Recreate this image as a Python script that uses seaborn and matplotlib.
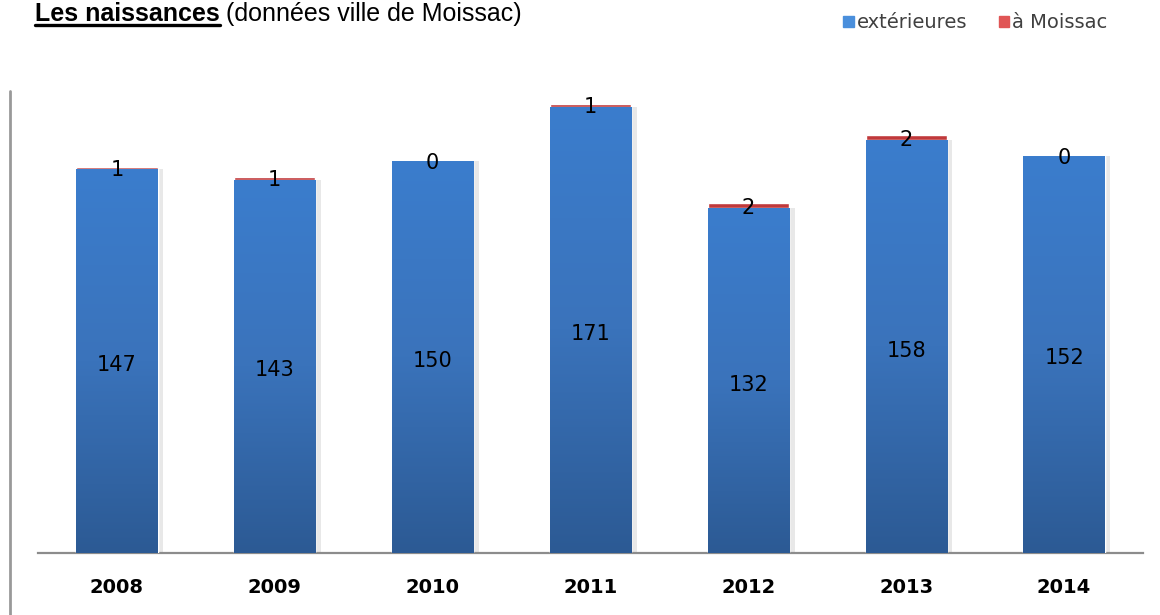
import numpy as np
import pandas as pd
import matplotlib
matplotlib.use('Agg')
import matplotlib.pyplot as plt
import seaborn as sns
from matplotlib.lines import Line2D

# ── DATA ─────────────────────────────────────────────
years = ['2008', '2009', '2010', '2011', '2012', '2013', '2014']
exterieures = [147, 143, 150, 171, 132, 158, 152]
a_moissac = [1, 1, 0, 1, 2, 2, 0]

df = pd.DataFrame({'annee': years, 'ext': exterieures, 'moissac': a_moissac})
df['total'] = df['ext'] + df['moissac']

sns.set_style('white')
plt.rcParams['font.family'] = ['DejaVu Sans']
plt.rcParams['text.color'] = 'black'
plt.rcParams['xtick.color'] = 'black'

fig = plt.figure(figsize=(11.6, 6.15), dpi=100)
ax = fig.add_axes([38 / 1160, 62 / 615, 1105 / 1160, 470 / 615])

# red on bottom layer (total), blue on top (exterieures) -> stacked look
sns.barplot(data=df, x='annee', y='total', color='#c0393b', width=0.515,
            saturation=1, ax=ax, zorder=2)
sns.barplot(data=df, x='annee', y='ext', color='#3a7bc8', width=0.515,
            saturation=1, ax=ax, zorder=3)

n = len(years)
blue_bars = ax.patches[n:]

# vertical gradient inside blue bars
grad = np.linspace(0, 1, 256).reshape(-1, 1)
cmap = matplotlib.colors.LinearSegmentedColormap.from_list(
    'g', ['#2c5a94', '#3a73bb', '#3b7dcd'])
for p in blue_bars:
    x0, w, h = p.get_x(), p.get_width(), p.get_height()
    # soft shadow on the right
    ax.add_patch(plt.Rectangle((x0 + w, 0), 0.035, h, color='#d9d9d9',
                               alpha=0.6, zorder=1, lw=0))
    im = ax.imshow(grad, extent=[x0, x0 + w, 0, h], origin='lower',
                   cmap=cmap, aspect='auto', zorder=4)
    im.set_clip_path(p)
ax.set_xlim(-0.5, 6.5)
ax.set_ylim(0, 180)

# value labels
for i, p in enumerate(blue_bars):
    cx = p.get_x() + p.get_width() / 2
    ax.text(cx, exterieures[i] / 2 - 1.5, str(exterieures[i]), ha='center',
            va='center', fontsize=15, color='black', zorder=6)
    ax.text(cx, exterieures[i] + a_moissac[i] / 2 - 0.8, str(a_moissac[i]),
            ha='center', va='center', fontsize=15, color='black', zorder=6)

for s in ['top', 'right', 'left']:
    ax.spines[s].set_visible(False)
ax.spines['bottom'].set_color('#8c8c8c')
ax.spines['bottom'].set_linewidth(1.6)
ax.set_yticks([])
ax.set_xlabel('')
ax.set_ylabel('')
ax.tick_params(axis='x', length=0, pad=18, labelcolor='black')
for t in ax.get_xticklabels():
    t.set_fontweight('bold')
    t.set_fontsize(14)

# left page border line
fig.add_artist(Line2D([10 / 1160, 10 / 1160], [0, 1 - 91 / 615],
                      color='#999999', lw=2, transform=fig.transFigure))

# title
t1 = fig.text(35 / 1160, 1 - 21 / 615, 'Les naissances', fontsize=18,
              fontweight='bold', family='Liberation Sans', va='baseline',
              color='black')
fig.canvas.draw()
bb = t1.get_window_extent()
fig.add_artist(Line2D([bb.x0 / 1160, bb.x1 / 1160],
                      [1 - 25 / 615, 1 - 25 / 615],
                      color='black', lw=2.4, transform=fig.transFigure))
fig.text(bb.x1 / 1160 + 0.005, 1 - 21 / 615, '(données ville de Moissac)',
         fontsize=18, family='Liberation Sans', va='baseline', color='black')

# legend
handles = [plt.Rectangle((0, 0), 1, 1, color='#4a8fdc'),
           plt.Rectangle((0, 0), 1, 1, color='#e05555')]
fig.legend(handles, ['extérieures', 'à Moissac'], loc='center right',
           bbox_to_anchor=(1125 / 1160, 1 - 23 / 615), ncol=2, frameon=False,
           fontsize=14, handlelength=0.55, handleheight=0.55, handletextpad=0.15,
           columnspacing=1.6, labelcolor='#404040')

fig.savefig('out.png', dpi=100)
